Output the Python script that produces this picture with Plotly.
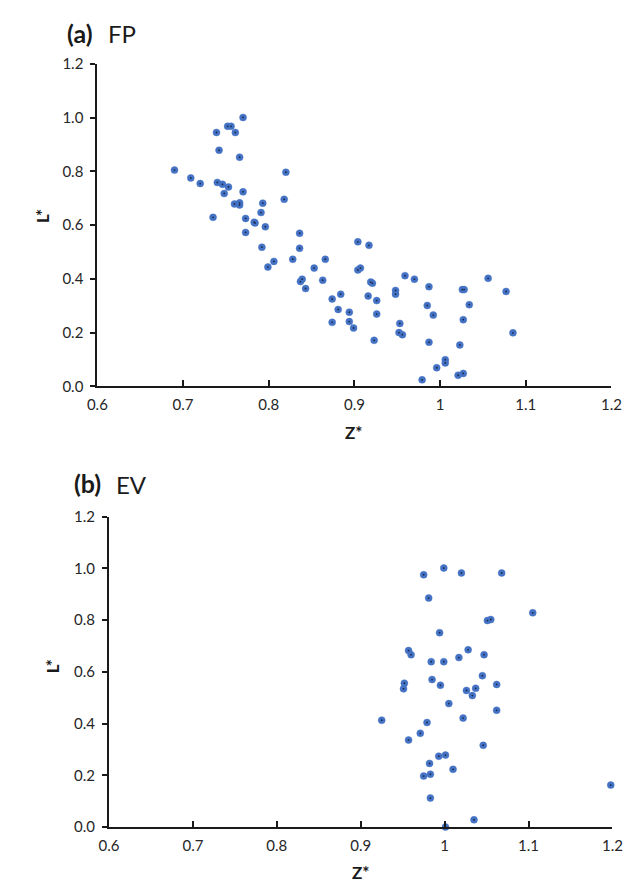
import plotly.graph_objects as go

# %%
# (a) FP  -- Z* vs L*
fp_z = [0.770, 0.752, 0.756, 0.739, 0.761, 0.742, 0.766, 0.690, 0.820, 0.709,
        0.720, 0.740, 0.746, 0.753, 0.748, 0.770, 0.818, 0.760, 0.766, 0.766,
        0.793, 0.735, 0.791, 0.773, 0.783, 0.784, 0.796, 0.773, 0.836, 0.836,
        0.792, 0.806, 0.799, 0.828, 0.866, 0.853, 0.904, 0.917, 0.904, 0.907,
        0.837, 0.839, 0.863, 0.843, 0.874, 0.884, 0.881, 0.874, 0.894, 0.894,
        0.899, 0.919, 0.921, 0.916, 0.926, 0.926, 0.923, 0.948, 0.948, 0.959,
        0.970, 0.987, 1.026, 1.028, 1.056, 1.077, 0.985, 1.034, 0.992, 1.027,
        0.953, 0.952, 0.956, 1.085, 0.987, 1.023, 1.006, 1.006, 0.996, 1.021,
        1.027, 0.979]
fp_l = [1.001, 0.968, 0.968, 0.945, 0.945, 0.879, 0.853, 0.805, 0.797, 0.776,
        0.755, 0.759, 0.752, 0.742, 0.718, 0.724, 0.696, 0.679, 0.683, 0.675,
        0.682, 0.629, 0.647, 0.625, 0.611, 0.608, 0.594, 0.573, 0.570, 0.514,
        0.518, 0.465, 0.444, 0.473, 0.473, 0.440, 0.538, 0.525, 0.433, 0.440,
        0.390, 0.399, 0.395, 0.364, 0.325, 0.343, 0.286, 0.238, 0.276, 0.241,
        0.217, 0.388, 0.384, 0.336, 0.319, 0.269, 0.171, 0.357, 0.343, 0.412,
        0.399, 0.371, 0.360, 0.360, 0.402, 0.353, 0.301, 0.304, 0.265, 0.248,
        0.234, 0.200, 0.192, 0.199, 0.164, 0.154, 0.099, 0.087, 0.069, 0.041,
        0.048, 0.024]

# (b) EV
ev_z = [0.999, 0.975, 1.020, 1.068, 0.981, 1.105, 1.051, 1.055, 0.994, 0.957,
        0.960, 1.028, 1.047, 0.984, 0.999, 1.017, 1.045, 0.952, 0.951, 0.985,
        0.995, 1.062, 1.026, 1.037, 1.033, 1.005, 1.062, 0.925, 0.979, 1.022,
        0.971, 0.957, 1.046, 0.993, 1.001, 0.982, 1.010, 0.975, 0.983, 1.198,
        0.983, 1.035, 1.001]
ev_l = [1.001, 0.975, 0.982, 0.982, 0.885, 0.828, 0.798, 0.802, 0.751, 0.682,
        0.666, 0.685, 0.666, 0.639, 0.639, 0.655, 0.585, 0.556, 0.534, 0.570,
        0.548, 0.551, 0.528, 0.536, 0.508, 0.477, 0.451, 0.413, 0.404, 0.421,
        0.362, 0.336, 0.316, 0.274, 0.278, 0.246, 0.223, 0.197, 0.204, 0.162,
        0.112, 0.028, 0.000]

x_ticks = [0.6, 0.7, 0.8, 0.9, 1.0, 1.1, 1.2]
x_labels = ['0.6', '0.7', '0.8', '0.9', '1', '1.1', '1.2']
y_ticks = [0.0, 0.2, 0.4, 0.6, 0.8, 1.0, 1.2]
y_labels = ['0.0', '0.2', '0.4', '0.6', '0.8', '1.0', '1.2']

# %%
OFF = 8  # default body margin of the written page
W, H = 644 - 2 * OFF, 892 - 2 * OFF  # keep the page inside the window
FONT = 'Lato'
TXT = '#262626'
BLUE = '#4472C4'

def px_x(p):
    return (p - OFF) / W

def px_y(p):
    return 1 - (p - OFF) / H

fig = go.Figure()
for z, l, xa, ya in [(fp_z, fp_l, 'x', 'y'), (ev_z, ev_l, 'x2', 'y2')]:
    fig.add_trace(go.Scatter(x=z, y=l, xaxis=xa, yaxis=ya, mode='markers',
                             cliponaxis=False, showlegend=False,
                             marker=dict(size=7, color=BLUE,
                                         line=dict(width=1, color='rgba(68,114,196,0.45)'))))
    # little dark centre dot of the excel-style markers
    fig.add_trace(go.Scatter(x=z, y=l, xaxis=xa, yaxis=ya, mode='markers',
                             cliponaxis=False, showlegend=False, hoverinfo='skip',
                             marker=dict(size=1.8, color='#1b2a4a')))

xcommon = dict(range=[0.6, 1.2], tickvals=x_ticks, ticktext=x_labels,
               showgrid=False, zeroline=False, showline=True, linecolor='#1a1a1a',
               linewidth=2, ticks='inside', ticklen=6, tickwidth=2, tickcolor='#1a1a1a',
               ticklabelstandoff=4, tickfont=dict(family=FONT, size=15, color=TXT))
ycommon = dict(range=[0, 1.2], tickvals=y_ticks, ticktext=y_labels,
               showgrid=False, zeroline=False, showline=True, linecolor='#1a1a1a',
               linewidth=2, ticks='outside', ticklen=5, tickwidth=2, tickcolor='#1a1a1a',
               ticklabelstandoff=4, tickfont=dict(family=FONT, size=15, color=TXT))

fig.update_layout(
    width=W, height=H,
    margin=dict(l=0, r=0, t=0, b=0),
    plot_bgcolor='white', paper_bgcolor='white',
    xaxis=dict(domain=[px_x(90), px_x(621)], anchor='y', **xcommon),
    yaxis=dict(domain=[px_y(384), px_y(55)], anchor='x', **ycommon),
    xaxis2=dict(domain=[px_x(102), px_x(622)], anchor='y2', **xcommon),
    yaxis2=dict(domain=[px_y(834), px_y(517)], anchor='x2', **ycommon),
)

# panel titles and axis titles
anns = [
    ('<b>(a)</b>', 57, 23, 'left', 0, 25),
    ('FP', 99, 24, 'left', 0, 24),
    ('<b>(b)</b>', 64, 483, 'left', 0, 25),
    ('EV', 107, 484, 'left', 0, 24),
    ('<b>Z*</b>', 355, 431, 'center', 0, 17),
    ('<b>Z*</b>', 362, 880, 'center', 0, 17),
    ('<b>L*</b>', 34, 210, 'center', -90, 17),
    ('<b>L*</b>', 44, 670, 'center', -90, 17),
]
for text, x, y, xanchor, angle, size in anns:
    fig.add_annotation(text=text, x=px_x(x), y=px_y(y), xref='paper', yref='paper',
                       xanchor=xanchor, yanchor='middle', textangle=angle,
                       showarrow=False, font=dict(family=FONT, size=size, color='#1a1a1a'))

fig.write_html("out.html")
